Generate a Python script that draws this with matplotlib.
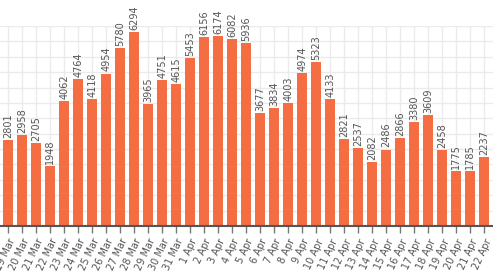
import matplotlib
matplotlib.use('Agg')
from matplotlib import pyplot as plt

# daily counts, 19 Mar - 22 Apr
dates = ['19 Mar', '20 Mar', '21 Mar', '22 Mar', '23 Mar', '24 Mar', '25 Mar',
         '26 Mar', '27 Mar', '28 Mar', '29 Mar', '30 Mar', '31 Mar',
         '1 Apr', '2 Apr', '3 Apr', '4 Apr', '5 Apr', '6 Apr', '7 Apr',
         '8 Apr', '9 Apr', '10 Apr', '11 Apr', '12 Apr', '13 Apr', '14 Apr',
         '15 Apr', '16 Apr', '17 Apr', '18 Apr', '19 Apr', '20 Apr',
         '21 Apr', '22 Apr']
counts = [2801, 2958, 2705, 1948, 4062, 4764, 4118, 4954, 5780, 6294,
          3965, 4751, 4615, 5453, 6156, 6174, 6082, 5936, 3677, 3834,
          4003, 4974, 5323, 4133, 2821, 2537, 2082, 2486, 2866, 3380,
          3609, 2458, 1775, 1785, 2237]

plt.rcParams['font.family'] = ['DejaVu Sans']

fig = plt.figure(figsize=(4.93, 2.75), dpi=100)
ax = fig.add_axes([0, 49 / 275, 1, 200 / 275])

x = list(range(len(dates)))
ax.bar(x, counts, width=0.72, color='#f46d43', zorder=2)

# value labels above each bar
for xi, v in zip(x, counts):
    ax.annotate(str(v), (xi, v), xytext=(0, 1.5), textcoords='offset points',
                rotation=90, ha='center', va='bottom', fontsize=7,
                color='#555555', clip_on=False)

ax.set_xlim(-0.59, 34.62)
ax.set_ylim(0, 6500)
ax.set_yticks(range(0, 6501, 500))
ax.set_yticklabels([])
ax.set_xticks(x)
ax.set_xticklabels(dates, rotation=65, ha='right', va='top',
                   rotation_mode='anchor', fontsize=7, color='#555555')
ax.tick_params(axis='x', length=5, width=1, color='#777777', pad=3)
ax.tick_params(axis='y', length=0)
ax.grid(True, color='#ebebeb', linewidth=1, zorder=0)
ax.set_axisbelow(True)
for s in ['top', 'right', 'left']:
    ax.spines[s].set_visible(False)
ax.spines['bottom'].set_color('#555555')
ax.spines['bottom'].set_linewidth(1.5)
ax.spines['bottom'].set_zorder(3)

plt.savefig('out.png', dpi=100)
